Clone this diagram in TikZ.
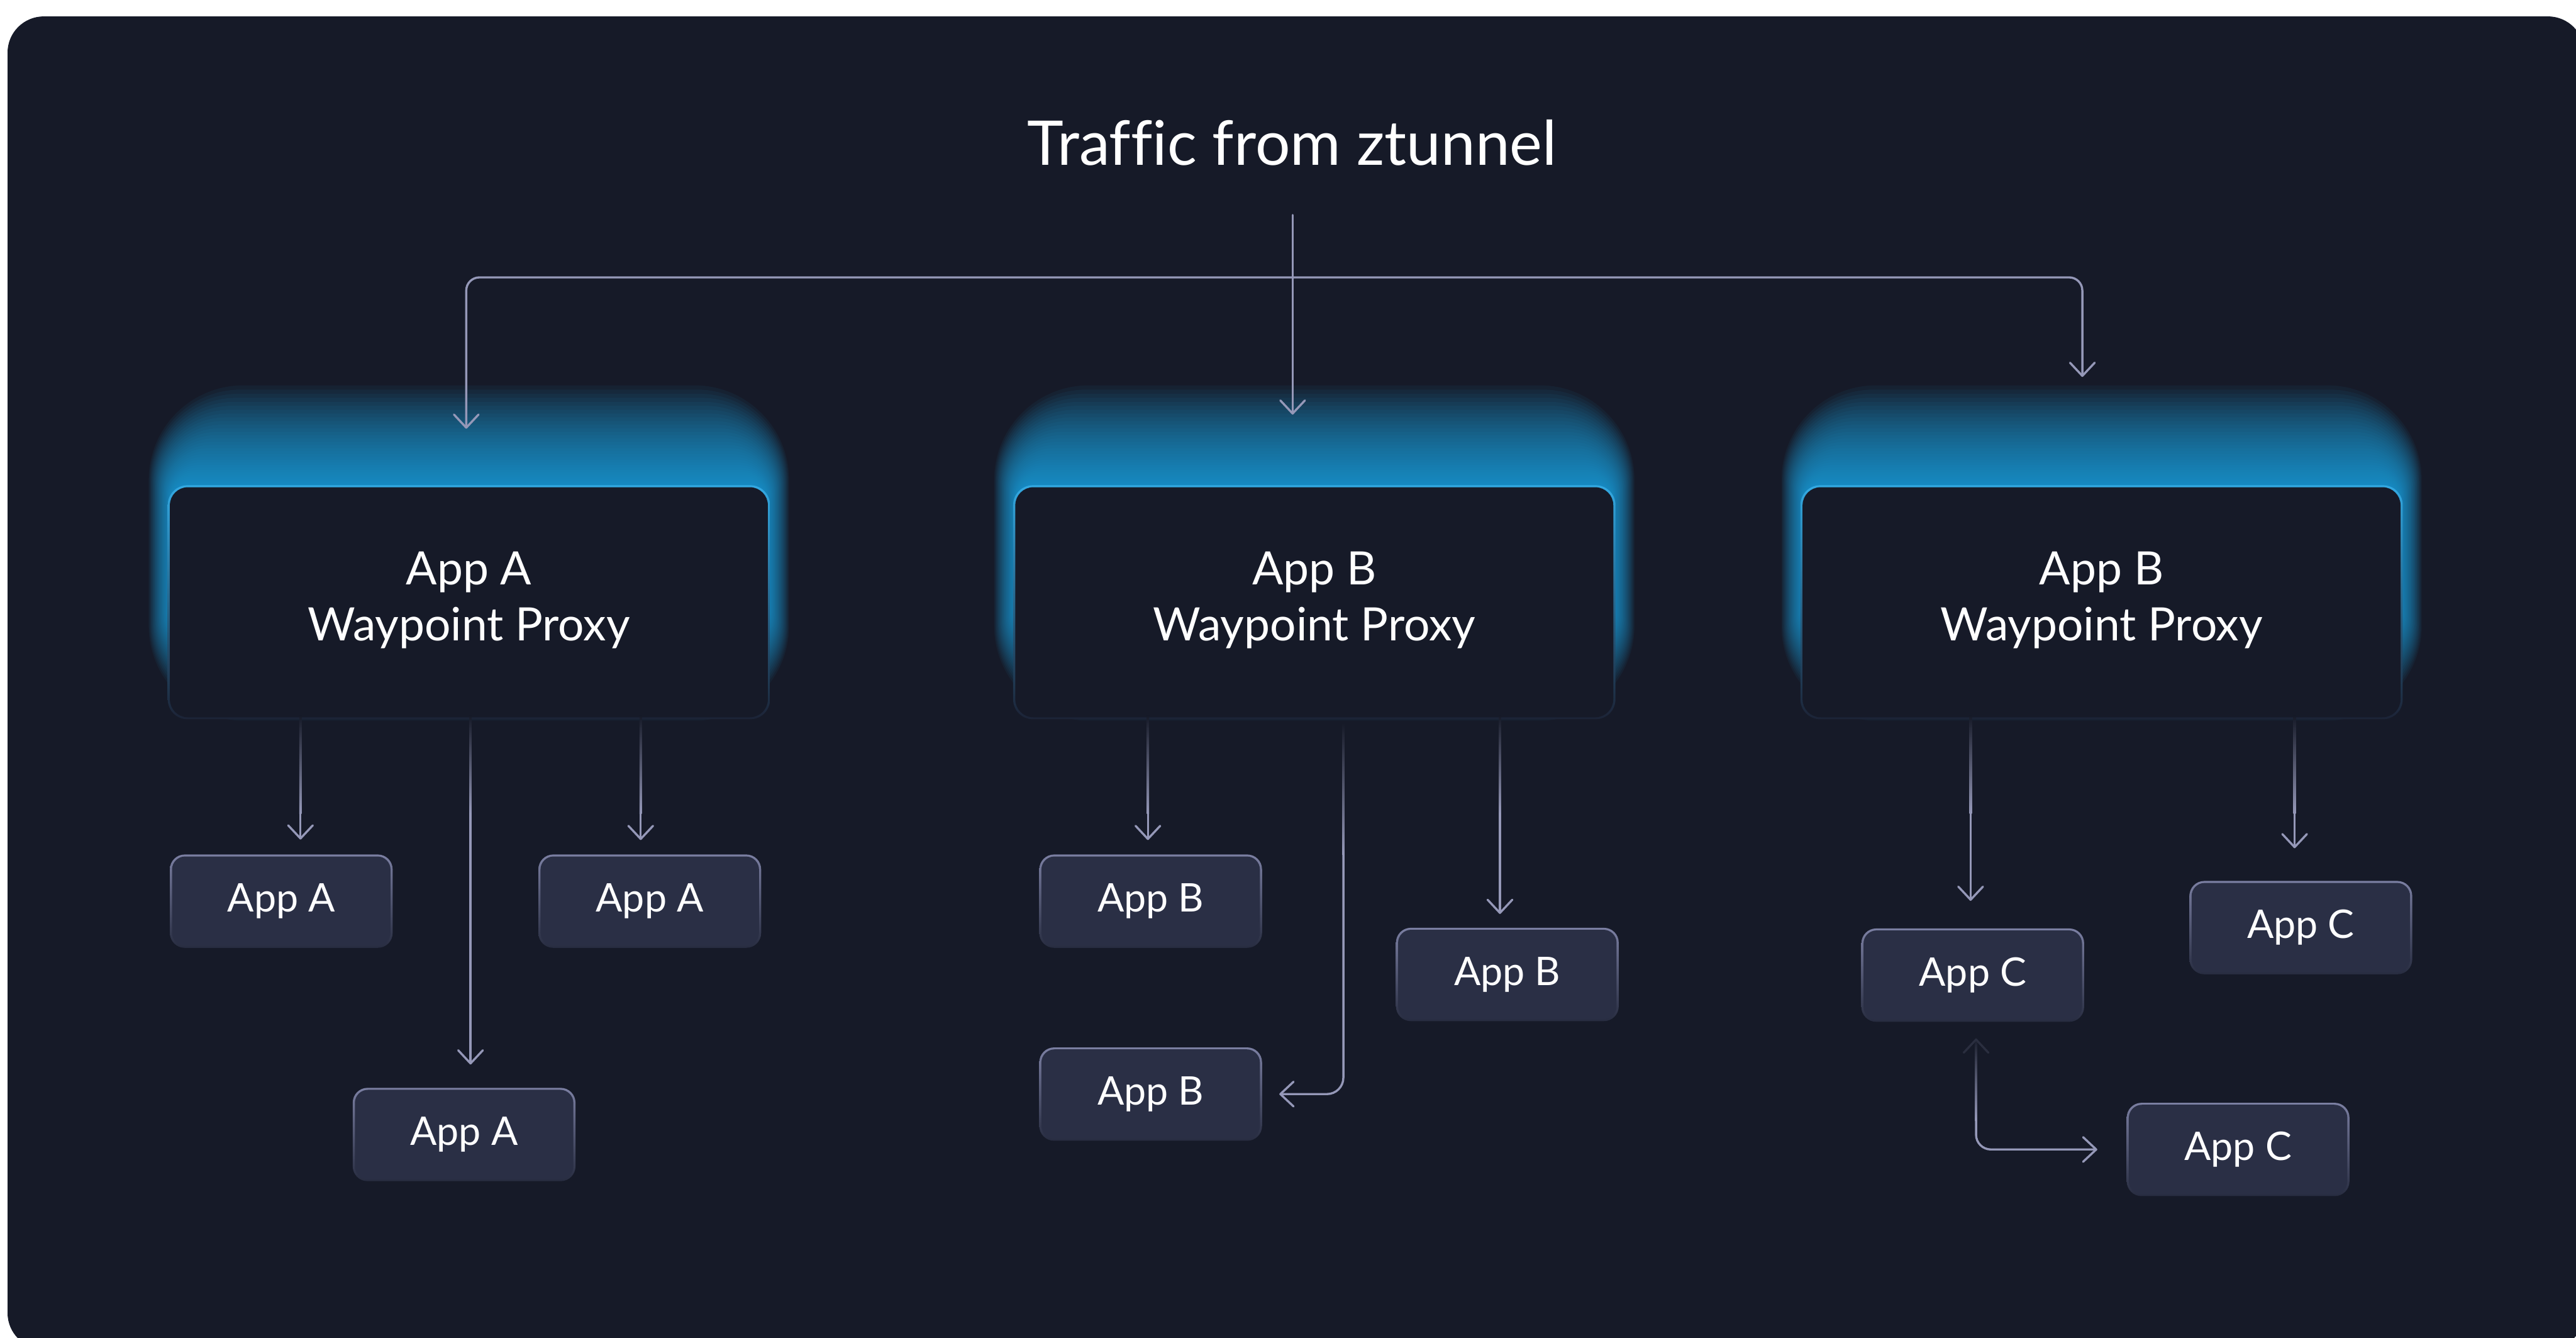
\documentclass[tikz,border=0pt]{standalone}
\usepackage{fontspec}
\setmainfont{Lato}[Ligatures=CommonOff]
\usetikzlibrary{arrows.meta,calc}

\definecolor{canvas}{HTML}{161A28}
\definecolor{wire}{HTML}{9598B8}
\definecolor{appfill}{HTML}{2A2F45}
\definecolor{apptop}{HTML}{7B7FA2}
\definecolor{appbot}{HTML}{272C40}
\definecolor{glowcol}{HTML}{1FA2E0}
\definecolor{proxytop}{HTML}{33A9E2}
\definecolor{proxybot}{HTML}{1C2336}

\tikzset{
  wirearrow/.style={draw=wire, line width=1.3pt, line cap=round, line join=round,
    -{Straight Barb[length=8pt,width=15pt,round]}},
  ghosttip/.style={line width=1.3pt, line cap=round, line join=round},
  appbox/.style={fill=appfill, rounded corners=8pt, minimum width=133pt,
    minimum height=54.4pt, inner sep=0pt, text=white,
    font=\fontsize{24}{28}\selectfont},
  proxybox/.style={fill=canvas, rounded corners=11pt, minimum width=364pt,
    minimum height=140pt, inner sep=0pt, text=white, align=center,
    font=\fontsize{28}{34}\selectfont},
}

% application card: gradient rim underneath, filled node on top
\newcommand\appcard[4]{%
  \shade[top color=apptop, bottom color=appbot, rounded corners=9pt]
    (#2-67.8,#3-28.4) rectangle (#2+67.8,#3+28.4);
  \node[appbox] (#1) at (#2,#3) {#4};
}

% waypoint proxy: stacked translucent layers for the cyan glow
% (denser near the box, sparser further out), then rim and body
\newcommand\proxycard[4]{%
  \foreach \k in {1,...,36}{%
    \pgfmathsetmacro\d{62*(\k/36)^1.5}%
    \pgfmathsetmacro\rr{8+0.8*\d}%
    \fill[glowcol, opacity=0.06, rounded corners=\rr pt]
      (#2-180-0.24*\d,#3-70-\d) rectangle (#2+180+0.24*\d,#3+10+\d);
  }%
  \shade[top color=proxytop, bottom color=proxybot, rounded corners=12pt]
    (#2-183.3,#3-71.2) rectangle (#2+183.3,#3+71.2);
  \node[proxybox] (#1) at (#2,#3) {#4\rule[-7.6pt]{0pt}{7.6pt}};
}

% soft start of a vertical wire: from background colour into the wire colour
\newcommand\fadein[3]{%
  \shade[top color=canvas, bottom color=wire] (#1-0.7,#2) rectangle (#1+0.7,#3);
}

\begin{document}
\begin{tikzpicture}[x=1pt,y=-1pt]
\useasboundingbox (0,0) rectangle (1568,814);
\clip (0,0) rectangle (1568,814);
\fill[white] (0,0) rectangle (1568,814);
\fill[canvas, rounded corners=22pt] (4.6,10) rectangle (1573,821);

% heading
\node[text=white, font=\fontsize{37.5}{45}\selectfont, anchor=base] (title)
  at (786.5,100.5) {Traffic from ztunnel};

% proxies
\proxycard{pA}{285.4}{366.5}{App A\\Waypoint Proxy}
\proxycard{pB}{800}{366.5}{App B\\Waypoint Proxy}
\proxycard{pC}{1279.2}{366.5}{App B\\Waypoint Proxy}

% workloads
\appcard{a1}{171.2}{548.4}{App A}
\appcard{a2}{395.5}{548.4}{App A}
\appcard{a3}{282.5}{690.4}{App A}
\appcard{b1}{700.4}{548.4}{App B}
\appcard{b2}{917.5}{593}{App B}
\appcard{b3}{700.4}{665.8}{App B}
\appcard{c1}{1200.8}{593.4}{App C}
\appcard{c2}{1400.5}{564.5}{App C}
\appcard{c3}{1362.3}{699.5}{App C}

% distribution from ztunnel
\coordinate (stem) at ($(title.south)+(0.3,26.5)$);
\coordinate (busL) at (283.8,168.8);
\coordinate (busR) at (1267.5,168.8);
\draw[wirearrow, shorten >=44pt] (stem) -- (stem |- pB.north);
\draw[wirearrow, rounded corners=8pt, shorten >=35.4pt]
  (stem |- busL) -- (busL) -- (busL |- pA.north);
\draw[wirearrow, rounded corners=8pt, shorten >=66.9pt]
  (stem |- busR) -- (busR) -- (busR |- pC.north);

% wire origins under each proxy
\coordinate (oA1) at ($(pA.south)+(-102.5,0)$);
\coordinate (oA2) at ($(pA.south)+(104.6,0)$);
\coordinate (oA3) at ($(pA.south)+(1,0)$);
\coordinate (oB1) at ($(pB.south)+(-101.3,0)$);
\coordinate (oB2) at ($(pB.south)+(113,0)$);
\coordinate (oB3) at ($(pB.south)+(17.7,0)$);
\coordinate (oC1) at ($(pC.south)+(-79.7,0)$);
\coordinate (oC2) at ($(pC.south)+(117.5,0)$);
\coordinate (oC3) at ($(c1.south)+(2,0)$);

% proxy to workload
\draw[wirearrow, shorten >=10.1pt] (oA1) -- (oA1 |- a1.north);
\draw[wirearrow, shorten >=9.8pt]  (oA2) -- (oA2 |- a2.north);
\draw[wirearrow, shorten >=15.2pt] (oA3) -- (oA3 |- a3.north);
\draw[wirearrow, shorten >=9.8pt]  (oB1) -- (oB1 |- b1.north);
\draw[wirearrow, shorten >=9.4pt]  (oB2) -- (oB2 |- b2.north);
\draw[wirearrow, rounded corners=10pt, shorten <=5pt, shorten >=11.6pt]
  (oB3) |- (b3.east);
\draw[wirearrow, shorten >=17.8pt] (oC1) -- (oC1 |- c1.north);
\draw[wirearrow, shorten >=20.9pt] (oC2) -- (oC2 |- c2.north);
\draw[wirearrow, rounded corners=9pt, shorten <=11.8pt, shorten >=19pt]
  (oC3) |- (c3.west);

% faded starts
\fadein{182.9}{435.5}{495}
\fadein{390}{435.5}{495}
\fadein{286.4}{435.5}{495}
\fadein{698.7}{435.5}{495}
\fadein{913}{435.5}{495}
\fadein{817.7}{440}{520}
\fadein{1199.5}{435.5}{495}
\fadein{1396.7}{435.5}{495}
\fadein{1202.8}{631}{682}

% dim tip at the start of the bent wire below App C
\draw[ghosttip, draw=wire!16!canvas] (1195.3,640.6) -- (1202.8,632.6) -- (1210.3,640.6);
\end{tikzpicture}
\end{document}
